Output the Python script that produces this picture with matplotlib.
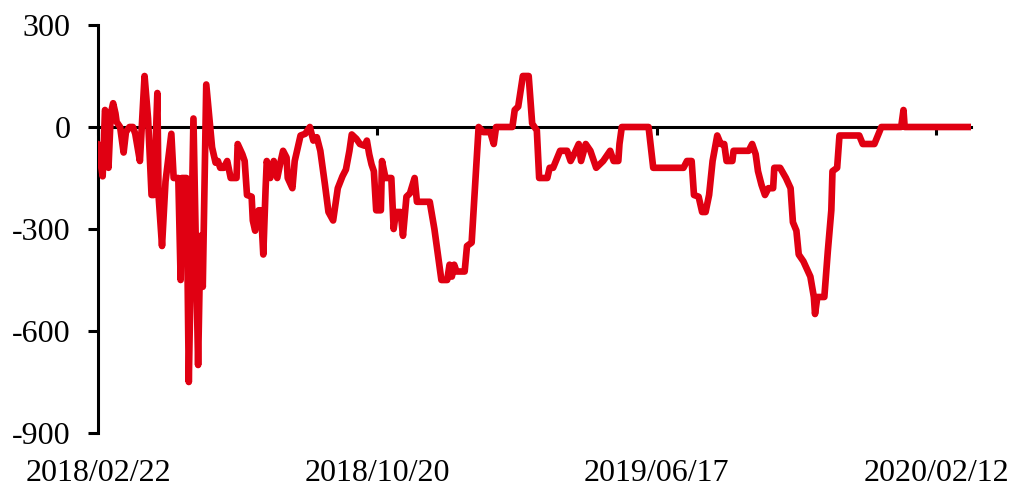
import matplotlib
matplotlib.use("Agg")
import matplotlib.pyplot as plt
import pandas as pd

# ---- data ----
start_date = "2018-02-22"
day_offsets = [
    0, 2, 4, 6, 8, 9, 11, 13, 15, 16, 19, 22, 24, 27, 30, 32, 34, 36, 40, 43,
    46, 48, 51, 52, 55, 58, 63, 65, 69, 71, 72, 76, 78, 82, 86, 88, 90, 93, 98, 101,
    103, 105, 108, 111, 114, 119, 120, 124, 126, 128, 132, 133, 135, 138, 140, 142, 144, 145, 148, 151,
    154, 157, 159, 162, 163, 167, 169, 174, 178, 182, 185, 188, 191, 195, 198, 202, 206, 210, 213, 216,
    218, 222, 225, 229, 231, 233, 235, 237, 239, 243, 244, 247, 252, 254, 256, 260, 262, 265, 268, 272,
    274, 285, 289, 292, 295, 300, 302, 304, 306, 308, 315, 317, 321, 327, 331, 337, 340, 342, 356, 358,
    361, 365, 370, 373, 377, 379, 386, 388, 391, 394, 397, 403, 406, 409, 413, 415, 419, 423, 428, 434,
    438, 440, 443, 447, 448, 450, 473, 477, 503, 506, 510, 512, 516, 519, 522, 525, 528, 532, 535, 538,
    540, 545, 546, 559, 562, 565, 567, 570, 573, 576, 580, 581, 586, 591, 595, 597, 600, 602, 606, 610,
    612, 615, 616, 618, 624, 627, 630, 631, 635, 637, 654, 657, 667, 670, 673, 690, 692, 693, 750,
]
values = [
    -50, -100, -145, 50, 30, -120, 40, 70, 40, 15, 0, -75, -15, 0, 0, -20, -60, -100, 150, 25,
    -200, -200, 100, -200, -350, -160, -20, -150, -150, -450, -150, -150, -750, 25, -700, -320, -470, 125, -60, -105,
    -100, -120, -120, -100, -150, -150, -50, -80, -100, -200, -205, -275, -305, -245, -245, -375, -180, -100, -150, -100,
    -150, -100, -70, -90, -150, -180, -100, -25, -20, 0, -40, -30, -70, -170, -250, -275, -180, -145, -125, -70,
    -22, -35, -50, -55, -40, -80, -110, -130, -245, -245, -100, -150, -150, -300, -250, -250, -320, -205, -195, -150,
    -220, -220, -300, -375, -450, -450, -405, -440, -405, -425, -425, -350, -340, 0, -15, -15, -50, 0, 0, 50,
    60, 150, 150, 10, -10, -150, -150, -120, -120, -95, -70, -70, -100, -80, -50, -100, -50, -70, -120, -100,
    -80, -70, -100, -100, -50, 0, 0, -120, -120, -100, -100, -200, -205, -250, -250, -200, -100, -25, -50, -50,
    -100, -100, -70, -70, -50, -80, -130, -170, -200, -180, -180, -120, -120, -150, -180, -280, -305, -375, -395, -425,
    -440, -500, -550, -500, -500, -365, -245, -130, -120, -25, -25, -50, -50, -25, 0, 0, 50, 0, 0,
]
tick_dates = ["2018-02-22", "2018-10-20", "2019-06-17", "2020-02-12"]
y_ticks = [-900, -600, -300, 0, 300]

# ---- figure ----
plt.rcParams["font.family"] = ["Liberation Serif", "DejaVu Serif"]
plt.rcParams["axes.unicode_minus"] = False

dates = pd.Timestamp(start_date) + pd.to_timedelta(day_offsets, unit="D")
tick_ts = pd.to_datetime(tick_dates)

fig = plt.figure(figsize=(10.16, 4.86), dpi=100)
ax = fig.add_axes([98 / 1016, 53 / 486, (971 - 98) / 1016, 408 / 486])

ax.plot(dates, values, color="#E00012", lw=4.8,
        solid_joinstyle="round", solid_capstyle="round", zorder=3)

ax.set_ylim(-900, 300)
ax.set_xlim(dates[0], dates[-1])
ax.set_yticks(y_ticks)
ax.set_yticklabels([str(v) for v in y_ticks])

for s in ["top", "right"]:
    ax.spines[s].set_visible(False)
ax.spines["left"].set_linewidth(2.2)
ax.spines["bottom"].set_position(("data", 0))
ax.spines["bottom"].set_linewidth(2.2)
ax.spines["bottom"].set_zorder(2)

ax.tick_params(axis="y", direction="out", length=7, width=2.2,
               labelsize=23, pad=12.5, colors="black")
ax.set_xticks(tick_ts)
ax.tick_params(axis="x", direction="out", length=5.5, width=2.2,
               labelbottom=False)

trans = ax.get_xaxis_transform()
for t in tick_ts:
    ax.text(t, -48 / 408, t.strftime("%Y/%m/%d"), transform=trans,
            ha="center", va="baseline", fontsize=23, color="black",
            clip_on=False)

fig.savefig("out.png", dpi=100)
